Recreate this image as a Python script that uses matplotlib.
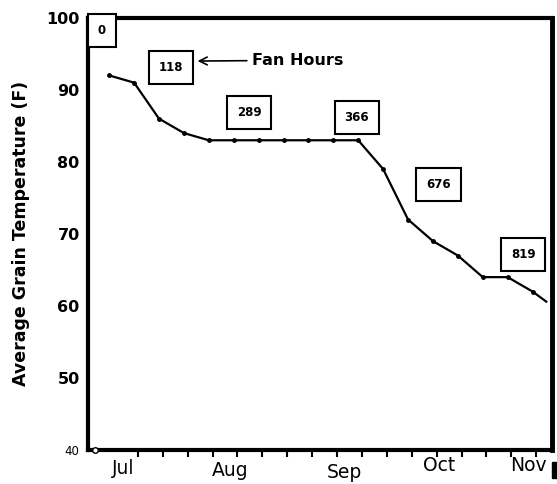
import matplotlib.pyplot as plt
from matplotlib.patches import Rectangle

# --- Données (semaines depuis le début de la saison) ---
weeks = [0.85, 1.85, 2.85, 3.85, 4.85, 5.85, 6.85, 7.85, 8.85, 9.85,
         10.85, 11.85, 12.85, 13.85, 14.85, 15.85, 16.85, 17.85, 18.4]
temps = [92, 91, 86, 84, 83, 83, 83, 83, 83, 83,
         83, 79, 72, 69, 67, 64, 64, 62, 60.6]

# Heures de ventilation (boites)
fan_labels = ["0", "118", "289", "366", "676", "819"]
fan_x = [0.56, 3.33, 6.47, 10.8, 14.06, 17.47]
fan_y = [98.2, 93.1, 86.8, 86.1, 76.9, 67.2]

months = ["Jul", "Aug", "Sep", "Oct", "Nov"]
month_x = [1.4, 5.7, 10.3, 14.1, 17.7]
month_y = [37.5, 37.2, 36.9, 37.9, 37.8]

y_ticks = [40, 50, 60, 70, 80, 90, 100]
x_ticks = list(range(2, 19))

fig = plt.figure(figsize=(5.57, 4.84), dpi=100)
ax = fig.add_axes([0.158, 0.0702, 0.833, 0.893])

ax.plot(weeks, temps, '-', color='black', lw=1.6, zorder=3)
ax.plot(weeks[:-1], temps[:-1], 'o', color='black', markersize=2.5, zorder=4)

# Boites
for lab, bx, by in zip(fan_labels, fan_x, fan_y):
    ax.text(bx, by, lab, ha='center', va='center', fontsize=8.5, fontweight='heavy',
            bbox=dict(boxstyle='square,pad=0.85', fc='white', ec='black', lw=1.5),
            zorder=5)

# Fleche "Fan Hours"
ax.annotate("Fan Hours", xy=(4.4, 94.0), xytext=(6.6, 94.1), va='center',
            fontsize=11.5, fontweight='heavy',
            arrowprops=dict(arrowstyle='->', color='black', lw=1.2,
                            mutation_scale=14, shrinkA=2, shrinkB=0))

# Axes
ax.set_xlim(0, 18.63)
ax.set_ylim(40, 100)
ax.set_xticks(x_ticks)
ax.set_xticklabels([])
ax.tick_params(axis='x', direction='out', length=5, width=1.5, color='black')
ax.set_yticks(y_ticks)
ax.set_yticklabels([str(v) for v in y_ticks], fontsize=11.5, fontweight='heavy')
ax.tick_params(axis='y', length=0, pad=6)
lbl40 = ax.get_yticklabels()[0]
lbl40.set_fontweight('normal')
lbl40.set_fontsize(8.5)

for side in ['left', 'bottom', 'top']:
    ax.spines[side].set_linewidth(3.0)
ax.spines['right'].set_linewidth(3.5)

ax.set_ylabel("Average Grain Temperature (F)", fontsize=12.5, fontweight='heavy',
              labelpad=12)

for m, mx, my in zip(months, month_x, month_y):
    ax.text(mx, my, m, ha='center', va='center', fontsize=13.5, clip_on=False)

# petit cercle en bas a gauche
ax.plot(0.28, 40, 'o', mfc='white', mec='black', markersize=4, clip_on=False,
        zorder=6, mew=1)

# carre noir a cote de Nov
fig.patches.append(Rectangle((552 / 557, 1 - 478 / 484), 5 / 557, 16 / 484,
                             transform=fig.transFigure, color='black'))

fig.savefig("out.png", dpi=100)
